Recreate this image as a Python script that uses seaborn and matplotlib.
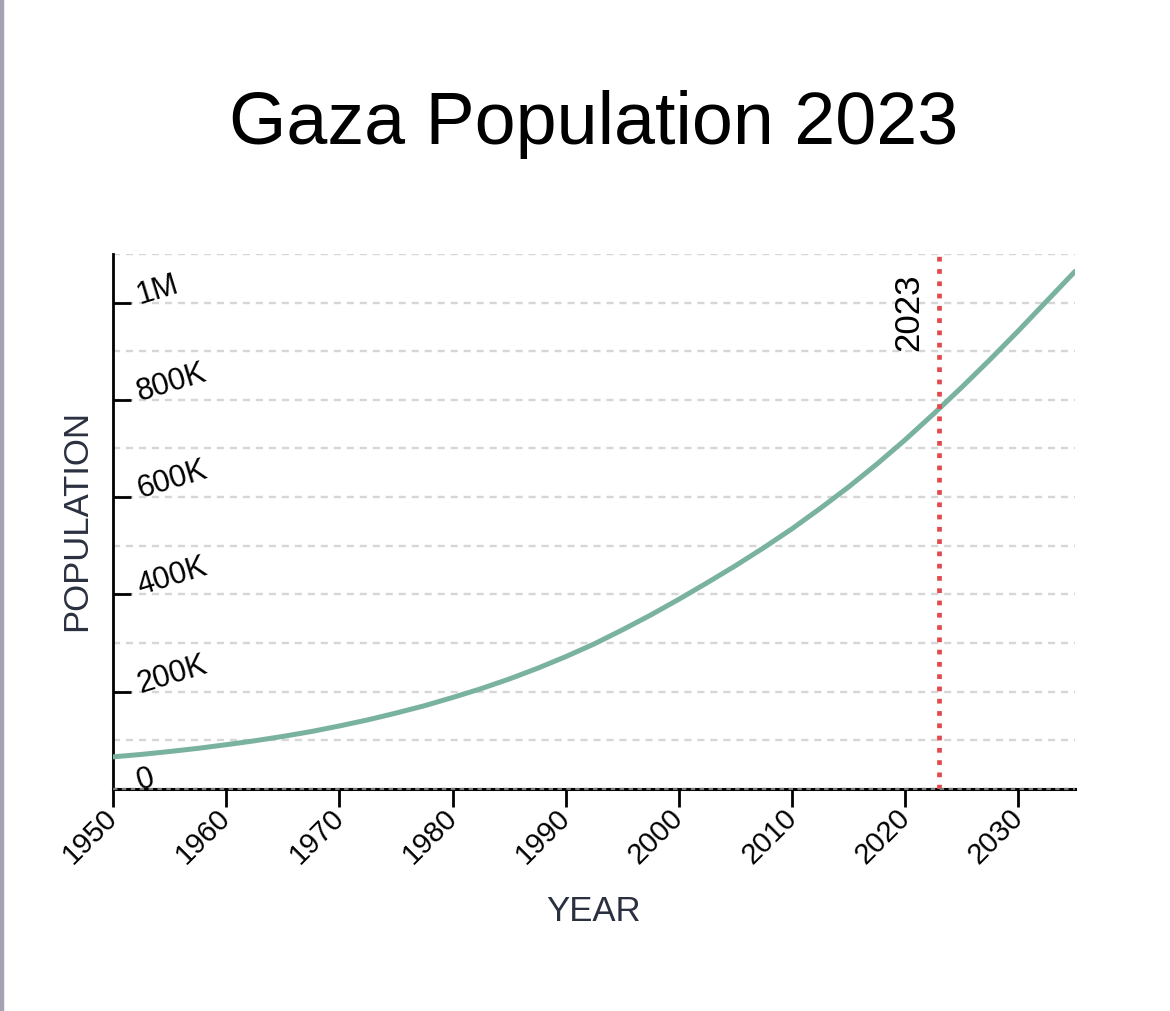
import numpy as np
import pandas as pd
import matplotlib.pyplot as plt
from matplotlib.patches import Rectangle
import seaborn as sns

# values (population, every 2.5 years)
years = [1950, 1952.5, 1955, 1957.5, 1960, 1962.5, 1965, 1967.5, 1970, 1972.5,
         1975, 1977.5, 1980, 1982.5, 1985, 1987.5, 1990, 1992.5, 1995, 1997.5,
         2000, 2002.5, 2005, 2007.5, 2010, 2012.5, 2015, 2017.5, 2020, 2022.5,
         2025, 2027.5, 2030, 2032.5, 2035]
population = [66000, 71000, 77000, 83500, 91000, 99000, 108000, 118000, 129500, 142000,
              156000, 171000, 188000, 206000, 226000, 248000, 272000, 298000, 327000, 357500,
              390000, 424000, 459000, 496000, 535000, 577000, 621000, 668000, 718000, 771000,
              826000, 883000, 942000, 1003000, 1064000]
marker_year = 2023
xtick_values = [1950, 1960, 1970, 1980, 1990, 2000, 2010, 2020, 2030]
ytick_values = [0, 200000, 400000, 600000, 800000, 1000000]
ytick_labels = ['0', '200K', '400K', '600K', '800K', '1M']
grid_values = np.arange(0, 1100001, 100000)

sns.set_style('white')
plt.rcParams['font.family'] = ['Liberation Sans', 'DejaVu Sans']

df = pd.DataFrame({'Year': years, 'Population': population})

fig = plt.figure(figsize=(11.7, 10.12), dpi=100)
fig.patches.append(Rectangle((0, 0), 3 / 1170, 1, transform=fig.transFigure,
                             color='#a3a3b3', zorder=0))
ax = fig.add_axes([0.0966, 0.2194, 0.8222, 0.5287])

# light dashed grid every 100K
ax.set_yticks(grid_values, minor=True)
ax.grid(axis='y', which='both', color='#d6d6d6', linestyle=(0, (3, 2.5)), linewidth=1.7)
ax.grid(axis='x', visible=False)
ax.set_axisbelow(True)

sns.lineplot(data=df, x='Year', y='Population', ax=ax, color='#7ab2a0',
             linewidth=3.6, zorder=3)

ax.axvline(marker_year, color='#e5484d', linewidth=3.4, linestyle=(0, (1, 1.6)), zorder=4)
ax.text(marker_year - 1.2, 1062000, str(marker_year), rotation=90, ha='right', va='top',
        fontsize=25, color='black')

ax.set_xlim(1950, 2035)
ax.set_ylim(0, 1100000)
ax.set_xticks(xtick_values)
ax.set_yticks(ytick_values, labels=ytick_labels)

for s in ['top', 'right']:
    ax.spines[s].set_visible(False)
ax.spines['left'].set_color('black')
ax.spines['left'].set_linewidth(2)
ax.spines['bottom'].set_color('black')
ax.spines['bottom'].set_linewidth(2.2)
ax.axhline(0, color='#7a7a7a', linestyle=(0, (2, 2)), linewidth=1.6, zorder=5, clip_on=False)

ax.tick_params(axis='x', which='major', bottom=True, direction='out', length=13, width=2,
               pad=4, labelsize=21, colors='black')
ax.tick_params(axis='y', which='major', left=True, direction='in', length=13, width=2,
               pad=-19.5, labelsize=22, colors='black')
ax.tick_params(axis='y', which='minor', left=False, length=0)
plt.setp(ax.get_xticklabels(), rotation=45, ha='right', va='center', rotation_mode='anchor')
plt.setp(ax.get_yticklabels(), rotation=17, ha='left', va='baseline', rotation_mode='anchor')

ax.set_xlabel('YEAR', fontsize=25, color='#2b3040')
ax.set_ylabel('POPULATION', fontsize=25, color='#2b3040')
ax.xaxis.label.set_va('center')
ax.yaxis.label.set_va('center')
ax.xaxis.set_label_coords(0.499, -0.228)
ax.yaxis.set_label_coords(-0.0374, 0.503)

fig.text(0.507, 0.877, 'Gaza Population 2023', ha='center', va='center',
         fontsize=53, color='black')

fig.savefig('out.png', dpi=100, facecolor='white')
